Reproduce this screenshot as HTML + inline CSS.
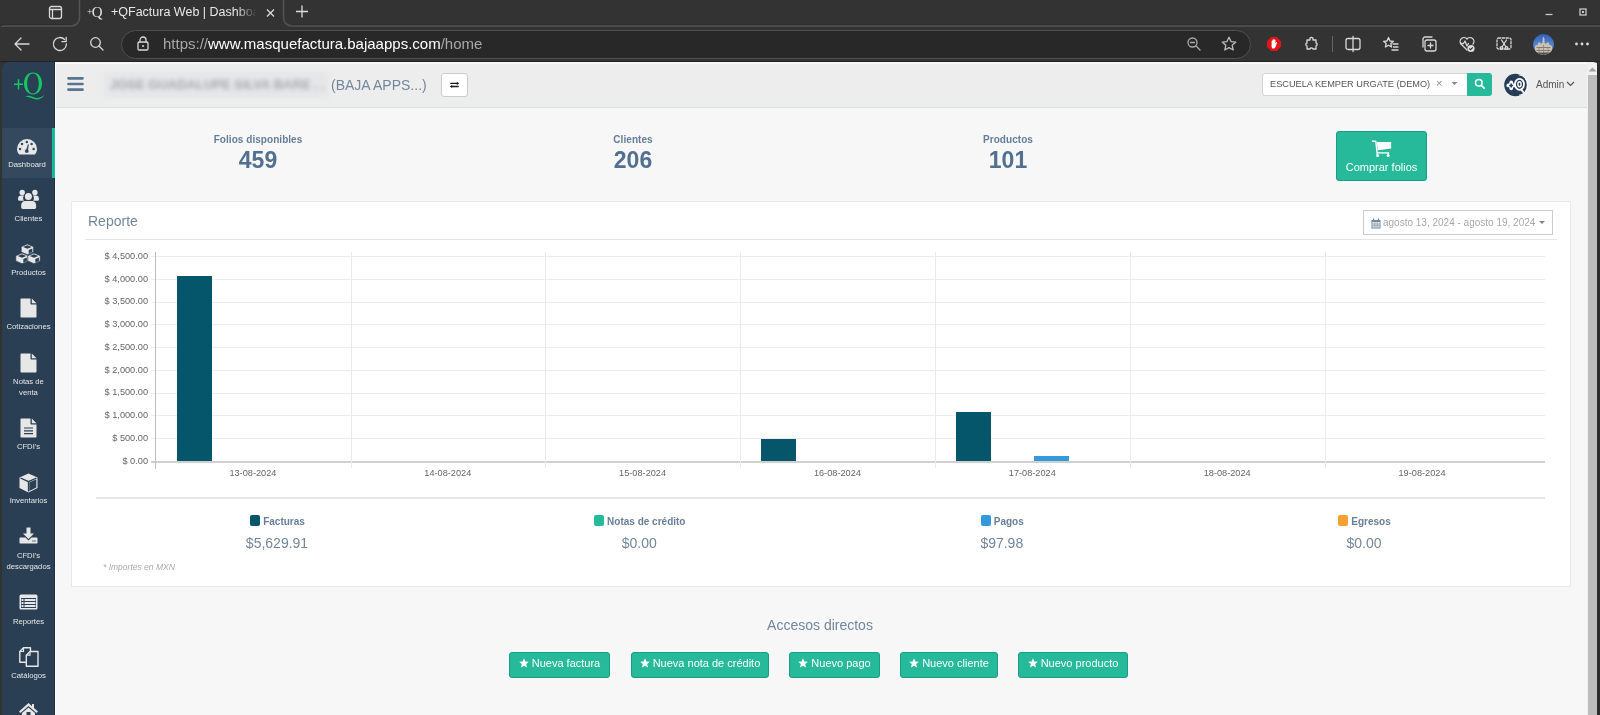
<!DOCTYPE html>
<html><head><meta charset="utf-8">
<style>
*{box-sizing:border-box;margin:0;padding:0}
html,body{width:1600px;height:715px;overflow:hidden;background:#333;font-family:"Liberation Sans",sans-serif;position:relative}
div,span,svg{position:absolute}
.in,.in *{position:static}
.ttl{left:111px;top:5px;font-size:12.5px;color:#e8e8e8;white-space:nowrap;line-height:14px;width:150px;overflow:hidden}
#urlbar{left:121px;top:30px;width:1130px;height:29px;background:#282828;border:1px solid #505050;border-radius:15px}
.url{left:163px;top:35px;font-size:15px;color:#fff;white-space:nowrap;line-height:18px}
.url span{position:static}
.url .g{color:#a8a8a8}
.ic{fill:none;stroke:#d8d8d8;stroke-width:1.3;stroke-linecap:round;stroke-linejoin:round}
#page{left:2px;top:62px;width:1598px;height:653px;background:#f7f7f7;border-radius:10px 10px 0 0;overflow:hidden}
#side{left:2px;top:62px;width:53px;height:653px;background:#2a3f54;border-top-left-radius:7px}
#nav{left:55px;top:62px;width:1532px;height:46px;background:#ededed;border-bottom:1px solid #d9dee4}
#scroll{left:1587px;top:62px;width:11px;height:653px;background:#f1f1f1}
#thumb{left:1588px;top:75px;width:9px;height:640px;background:#bcbcbc}
#rframe{left:1597px;top:62px;width:3px;height:653px;background:#2b2b2b}
.si{left:2px;width:53px;text-align:center;color:#e7e7e7;font-size:7.7px;line-height:10.8px}
.sic{fill:#e7e7e7}
.lbl{font-size:10px;font-weight:bold;line-height:12px;color:#647d98;letter-spacing:0.05px;width:200px;text-align:center;white-space:nowrap}
.cnt{font-size:23px;font-weight:bold;line-height:24px;color:#52708f;width:200px;text-align:center}
#panel{left:71px;top:201px;width:1500px;height:386px;background:#fff;border:1px solid #e6e9ed}
.ylab{left:88px;width:60px;text-align:right;font-size:9.2px;color:#666;line-height:10px;white-space:nowrap}
.xlab{width:120px;text-align:center;font-size:9.2px;color:#666;line-height:10px}
.hg{left:151px;width:1394px;height:1px;background:#ececec}
.vg{top:252px;width:1px;height:216px;background:#ebebeb}
.bar{background:#05566b}
.leg{width:300px;text-align:center;font-size:10px;font-weight:bold;color:#687f99;line-height:12px;white-space:nowrap}
.leg i{display:inline-block;width:10px;height:11px;border-radius:2px;vertical-align:-2px;margin-right:4px;position:relative;top:-1px;left:1px}
.amt{width:300px;text-align:center;font-size:14px;color:#73879c;line-height:16px}
.btn{top:652px;height:26px;background:#26b99a;border:1px solid #169f85;border-radius:3px;color:#fff;font-size:11px;line-height:21px;text-align:center;white-space:nowrap}
.btn span{position:static}
body{filter:opacity(0.999)}
</style></head><body>
<!-- ============ browser chrome ============ -->
<svg style="left:0;top:0" width="1600" height="27" viewBox="0 0 1600 27"><path d="M0 24.8H71M292 24.8H1600" fill="none" stroke="#2c2c2c" stroke-width="1"/><path d="M0 28.5C1 27 2.2 26 4.5 26H71C76 26 79.5 22.5 79.5 17.5V0M283.5 0V17.5C283.5 22.5 287 26 292 26H1600" fill="none" stroke="#545454" stroke-width="1.6"/></svg>
<svg style="left:48px;top:5px" width="16" height="16" viewBox="0 0 16 16"><rect class="ic" x="1.5" y="1.5" width="12" height="12" rx="2"/><path class="ic" d="M1.5 4.5H13.5M4.5 4.5V13.5"/></svg>
<div style="left:87px;top:3px;font-family:'Liberation Serif',serif;font-size:15px;color:#e0e0e0;line-height:17px;white-space:nowrap"><span class="in" style="font-size:10px;vertical-align:2px;margin-right:-1px">+</span>Q</div>
<div class="ttl">+QFactura Web | Dashboard</div>
<div style="left:236px;top:2px;width:26px;height:22px;background:linear-gradient(to right,rgba(51,51,51,0),#333 80%)"></div>
<svg style="left:266px;top:9px" width="9" height="8" viewBox="0 0 9 8"><path d="M1 0.5L8 7.5M8 0.5L1 7.5" fill="none" stroke="#ddd" stroke-width="1.2"/></svg>
<svg style="left:295px;top:5px" width="14" height="13" viewBox="0 0 14 13"><path d="M7 0.5V12.5M1 6.5H13" fill="none" stroke="#ddd" stroke-width="1.3"/></svg>
<!-- nav buttons -->
<svg style="left:13px;top:35px" width="18" height="18" viewBox="0 0 18 18"><path class="ic" d="M16 9H2M8 3L2 9L8 15"/></svg>
<svg style="left:51px;top:35px" width="18" height="18" viewBox="0 0 18 18"><path class="ic" d="M15.4 9A6.5 6.5 0 1 1 13.6 4.5"/><path class="ic" d="M15.2 2.3V6.6H10.9"/></svg>
<svg style="left:88px;top:35px" width="18" height="18" viewBox="0 0 18 18"><circle class="ic" cx="7.5" cy="7.5" r="4.8"/><path class="ic" d="M11 11L15 15"/></svg>
<div id="urlbar"></div>
<svg style="left:135px;top:35px" width="16" height="16" viewBox="0 0 16 16"><rect class="ic" x="3" y="7" width="10" height="8" rx="1.2"/><path class="ic" d="M5 7V5A3 3 0 0 1 11 5V7"/><circle cx="8" cy="11" r="1" fill="#d8d8d8"/></svg>
<div class="url"><span class="g">https://</span>www.masquefactura.bajaapps.com<span class="g">/home</span></div>
<svg style="left:1186px;top:36px" width="16" height="16" viewBox="0 0 16 16"><circle class="ic" cx="6.5" cy="6.5" r="4.5" style="stroke:#aaa"/><path class="ic" d="M4.5 6.5H8.5M10 10L14 14" style="stroke:#aaa"/></svg>
<svg style="left:1220px;top:35px" width="18" height="18" viewBox="0 0 18 18"><path class="ic" d="M9 2.2L11 6.6L15.8 7.1L12.2 10.3L13.2 15L9 12.6L4.8 15L5.8 10.3L2.2 7.1L7 6.6Z" style="stroke:#bbb"/></svg>
<svg style="left:1266px;top:36px" width="16" height="16" viewBox="0 0 16 16"><path d="M5.2 1H10.8L15 5.2V10.8L10.8 15H5.2L1 10.8V5.2Z" fill="#e0161b"/><path d="M5.6 7.6V5.2C5.6 4.6 6.5 4.6 6.5 5.2V4C6.5 3.4 7.5 3.4 7.5 4V3.6C7.5 3 8.5 3 8.5 3.6V4.2C8.5 3.6 9.5 3.6 9.5 4.2V7.4L10.2 6.3C10.6 5.8 11.3 6.2 11 6.8L9.6 10.8C9.2 12 8.4 12.6 7.4 12.6C6.2 12.6 5.6 11.6 5.6 10.4Z" fill="#fff"/></svg>
<svg style="left:1303px;top:35px" width="18" height="18" viewBox="0 0 18 18"><path class="ic" d="M7 3.5C7 2 10 2 10 3.5V5H13V8C14.5 8 14.5 11 13 11V14H10C10 12.5 7 12.5 7 14H4V11C2.5 11 2.5 8 4 8V5H7Z"/></svg>
<div style="left:1332px;top:36px;width:1px;height:16px;background:#666"></div>
<svg style="left:1344px;top:35px" width="18" height="18" viewBox="0 0 18 18"><rect class="ic" x="2" y="3.5" width="14" height="11" rx="2"/><path class="ic" d="M9 1.5V16.5"/></svg>
<svg style="left:1382px;top:35px" width="18" height="18" viewBox="0 0 18 18"><path class="ic" d="M6.5 2.5L8 6L11.5 6.3L8.8 8.6L9.6 12L6.5 10.2L3.4 12L4.2 8.6L1.5 6.3L5 6Z"/><path class="ic" d="M11 9H16M11.5 12H16M10 15H16"/></svg>
<svg style="left:1420px;top:35px" width="18" height="18" viewBox="0 0 18 18"><rect class="ic" x="5" y="5" width="11" height="11" rx="2"/><path class="ic" d="M3 12V4A2 2 0 0 1 5 2H12M10.5 8V13M8 10.5H13"/></svg>
<svg style="left:1458px;top:35px" width="18" height="18" viewBox="0 0 18 18"><path class="ic" d="M9 15L3 9A3.3 3.3 0 0 1 9 4A3.3 3.3 0 0 1 15 9"/><path class="ic" d="M2.5 8.5H5.5L7 6L9 11L10.5 8.5"/><circle cx="13" cy="13.5" r="3.6" fill="#ddd"/><path d="M11.3 13.5L12.6 14.7L14.8 12.3" fill="none" stroke="#333" stroke-width="1.1"/></svg>
<svg style="left:1495px;top:35px" width="18" height="18" viewBox="0 0 18 18"><rect class="ic" x="2" y="3" width="14" height="11" rx="1.5" style="stroke-dasharray:2.2 1.6"/><path class="ic" d="M6.5 5L11 12M11.5 5L7 12"/><circle class="ic" cx="6.5" cy="13" r="1.3"/><circle class="ic" cx="11.5" cy="13" r="1.3"/></svg>
<svg style="left:1533px;top:34px" width="21" height="21" viewBox="0 0 21 21"><defs><clipPath id="av"><circle cx="10.5" cy="10.5" r="10.4"/></clipPath><linearGradient id="sky" x1="0" y1="0" x2="0" y2="1"><stop offset="0" stop-color="#2f5fb8"/><stop offset="1" stop-color="#7aa6e0"/></linearGradient></defs><g clip-path="url(#av)"><rect width="21" height="21" fill="url(#sky)"/><path d="M2 21V12L5 10.5V8.5H7.5V10L9.5 9V5L10.5 2.5L11.5 5V9L13.5 10V8.5H16V10.5L19 12V21Z" fill="#c9c3b6"/><path d="M3.5 13.5H17.5M3.5 16.5H17.5" stroke="#7d7466" stroke-width="0.9"/><path d="M6 14V21M10.5 11V21M15 14V21" stroke="#8e8574" stroke-width="0.8"/><rect y="18.5" width="21" height="3" fill="#5a5348"/></g></svg>
<svg style="left:1574px;top:41px" width="16" height="6" viewBox="0 0 16 6"><circle cx="2.5" cy="3" r="1.4" fill="#ddd"/><circle cx="8" cy="3" r="1.4" fill="#ddd"/><circle cx="13.5" cy="3" r="1.4" fill="#ddd"/></svg>
<svg style="left:1543px;top:10px" width="12" height="8" viewBox="0 0 12 8"><path d="M2.5 4.5H9.5" stroke="#c8c8c8" stroke-width="1.3"/></svg>
<svg style="left:1578px;top:7px" width="10" height="10" viewBox="0 0 10 10"><rect x="2" y="2" width="6" height="6" fill="none" stroke="#c8c8c8" stroke-width="1.3"/><rect x="4" y="4" width="2" height="2" fill="#c8c8c8"/></svg>

<!-- ============ page ============ -->
<div id="page"></div>
<div id="side"></div>
<div id="nav"></div>
<div style="left:54px;top:62px;width:1px;height:653px;background:#1d3044"></div>
<div style="left:55px;top:62px;width:1px;height:653px;background:#fff"></div>
<div style="left:55px;top:62px;width:1532px;height:2px;background:#f8f8f8"></div>
<div style="left:0;top:61px;width:1600px;height:1px;background:#222"></div>
<div id="scroll"></div><div id="thumb"></div>
<svg style="left:1587px;top:65px" width="11" height="8" viewBox="0 0 11 8"><path d="M1.5 6.5L5.5 2.5L9.5 6.5Z" fill="#a0a0a0"/></svg>
<div id="rframe"></div>
<svg style="left:1590px;top:62px" width="10" height="10" viewBox="0 0 10 10"><path d="M3 0H10V10C10 4 8 0 3 0Z" fill="#333"/></svg>

<!-- ============ sidebar ============ -->
<svg style="left:13px;top:78px" width="11" height="12" viewBox="0 0 11 12"><path d="M5.5 1.3V11.4M1 6.3H10" stroke="#12c864" stroke-width="1.5"/></svg>
<svg style="left:20px;top:68px" width="28" height="36" viewBox="0 0 28 36"><path d="M13 4.6C7.5 4.6 4 9.5 4 15.5C4 21.5 7.5 26.4 13 26.4C18.5 26.4 22 21.5 22 15.5C22 9.5 18.5 4.6 13 4.6ZM13 5.6C16.8 5.6 18.8 10 18.8 15.5C18.8 21 16.8 25.4 13 25.4C9.2 25.4 7.2 21 7.2 15.5C7.2 10 9.2 5.6 13 5.6Z" fill="#12c864" fill-rule="evenodd"/><path d="M5 28.3C7 27.2 10 27.6 13 29C16.5 30.6 20 30.6 24.5 26.8C21.5 31.5 17.5 32.2 13.5 30.8C10.5 29.8 8 28.8 5 28.3Z" fill="#12c864"/></svg>
<div style="left:2px;top:128px;width:50px;height:50px;background:#34495e"></div>
<div style="left:52px;top:128px;width:3px;height:50px;background:#1abb9c"></div>
<svg style="left:17px;top:139px" width="20" height="16" viewBox="0 0 20 16"><path class="sic" d="M2.2 15.6C0.8 14 0 12.2 0 10A10 10 0 0 1 20 10C20 12.2 19.2 14 17.8 15.6Z"/><g fill="#34495e"><circle cx="3" cy="9.9" r="1.25"/><circle cx="5" cy="5" r="1.25"/><circle cx="9.8" cy="2.9" r="1.25"/><circle cx="14.6" cy="5" r="1.25"/><circle cx="16.6" cy="9.9" r="1.25"/><circle cx="9.8" cy="12.1" r="1.9"/><path d="M8.9 11.8L10.9 5.3L11.9 5.6L10.7 12.3Z"/></g></svg>
<div class="si" style="top:160px;left:0.5px">Dashboard</div>

<svg style="left:17px;top:189px" width="23" height="21" viewBox="0 0 23 21"><g class="sic"><circle cx="5.2" cy="3.5" r="2.7"/><circle cx="17.9" cy="3.5" r="2.7"/><path d="M1 10C1 7.5 2.2 6.4 4 6.4H7.2C6.2 7.3 6 8.5 6.2 10C6.4 11 6.6 11.5 7 11.8H2.5C1.5 11.8 1 11.2 1 10Z"/><path d="M22 10C22 7.5 20.8 6.4 19 6.4H15.8C16.8 7.3 17 8.5 16.8 10C16.6 11 16.4 11.5 16 11.8H20.5C21.5 11.8 22 11.2 22 10Z"/><path d="M4.2 18.3V16.2C4.2 13.5 5.8 11.9 8.2 11.9H15.1C17.5 11.9 19.1 13.5 19.1 16.2V18.3C19.1 19.3 18.5 19.9 17.5 19.9H5.8C4.8 19.9 4.2 19.3 4.2 18.3Z"/></g><circle cx="11.4" cy="7.6" r="4.4" fill="#2a3f54"/><circle class="sic" cx="11.4" cy="7.6" r="3.5"/></svg>
<div class="si" style="top:214px">Clientes</div>

<svg style="left:15px;top:243px" width="26" height="22" viewBox="0 0 26 22"><path d="M12.4 1.0 L18.6 3.7 L18.6 9.0 L12.4 11.7 L6.2 9.0 L6.2 3.7Z" fill="#e7e7e7" stroke="#2a3f54" stroke-width="0.7" stroke-linejoin="round"/><path d="M12.4 2.3 L16.7 4.0 L12.4 5.7 L8.1 4.0Z M13.7 7.1 L17.3 5.6 L17.3 9.1 L13.7 10.5Z" fill="#2a3f54"/><path d="M7.0 10.0 L13.2 12.7 L13.2 18.0 L7.0 20.7 L0.8 18.0 L0.8 12.7Z" fill="#e7e7e7" stroke="#2a3f54" stroke-width="0.7" stroke-linejoin="round"/><path d="M7.0 11.3 L11.3 13.0 L7.0 14.7 L2.7 13.0Z M8.3 16.1 L11.9 14.6 L11.9 18.1 L8.3 19.5Z" fill="#2a3f54"/><path d="M19.0 10.0 L25.2 12.7 L25.2 18.0 L19.0 20.7 L12.8 18.0 L12.8 12.7Z" fill="#e7e7e7" stroke="#2a3f54" stroke-width="0.7" stroke-linejoin="round"/><path d="M19.0 11.3 L23.3 13.0 L19.0 14.7 L14.7 13.0Z M20.3 16.1 L23.9 14.6 L23.9 18.1 L20.3 19.5Z" fill="#2a3f54"/></svg>
<div class="si" style="top:268px">Productos</div>

<svg style="left:20px;top:298px" width="17" height="20" viewBox="0 0 17 20"><path class="sic" d="M0.5 1.2C0.5 0.8 0.8 0.5 1.2 0.5H10.5V5.8C10.5 6.2 10.8 6.5 11.2 6.5H16.5V18.8C16.5 19.2 16.2 19.5 15.8 19.5H1.2C0.8 19.5 0.5 19.2 0.5 18.8Z"/><path class="sic" d="M11.8 0.5L16.5 5.2H11.8Z"/></svg>
<div class="si" style="top:322px">Cotizaciones</div>

<svg style="left:20px;top:353px" width="17" height="20" viewBox="0 0 17 20"><path class="sic" d="M0.5 1.2C0.5 0.8 0.8 0.5 1.2 0.5H10.5V5.8C10.5 6.2 10.8 6.5 11.2 6.5H16.5V18.8C16.5 19.2 16.2 19.5 15.8 19.5H1.2C0.8 19.5 0.5 19.2 0.5 18.8Z"/><path class="sic" d="M11.8 0.5L16.5 5.2H11.8Z"/></svg>
<div class="si" style="top:377px">Notas de<br>venta</div>

<svg style="left:20px;top:418px" width="17" height="20" viewBox="0 0 17 20"><path class="sic" d="M0.5 1.2C0.5 0.8 0.8 0.5 1.2 0.5H10.5V5.8C10.5 6.2 10.8 6.5 11.2 6.5H16.5V18.8C16.5 19.2 16.2 19.5 15.8 19.5H1.2C0.8 19.5 0.5 19.2 0.5 18.8Z"/><path class="sic" d="M11.8 0.5L16.5 5.2H11.8Z"/><path d="M4 10H13M4 12.8H13M4 15.6H13" stroke="#2a3f54" stroke-width="1.2"/></svg>
<div class="si" style="top:442px">CFDI's</div>

<svg style="left:19px;top:473px" width="19" height="20" viewBox="0 0 19 20"><path class="sic" d="M9.5 0.5L18.5 4.5V15L9.5 19.5L0.5 15V4.5Z"/><path d="M1.5 5L9.5 8.7L17.5 5M9.5 8.7V18.5" fill="none" stroke="#2a3f54" stroke-width="1.3"/><path d="M10.3 9.5L17.3 6.3V14.4L10.3 18Z" fill="#2a3f54"/></svg>
<div class="si" style="top:496px">Inventarios</div>

<svg style="left:19px;top:527px" width="19" height="17" viewBox="0 0 19 17"><path class="sic" d="M7.5 0.5H11.5V6.5H15L9.5 12L4 6.5H7.5Z"/><path class="sic" d="M0.5 11.2C0.5 10.8 0.8 10.5 1.2 10.5H6.5L9.5 13.5L12.5 10.5H17.8C18.2 10.5 18.5 10.8 18.5 11.2V16C18.5 16.3 18.2 16.5 17.8 16.5H1.2C0.8 16.5 0.5 16.3 0.5 16Z"/><circle cx="14" cy="14" r="0.7" fill="#2a3f54"/><circle cx="16" cy="14" r="0.7" fill="#2a3f54"/></svg>
<div class="si" style="top:551px">CFDI's<br>descargados</div>

<svg style="left:19px;top:594px" width="19" height="16" viewBox="0 0 19 16"><rect class="sic" x="0.5" y="0.5" width="18" height="15" rx="1.5"/><rect x="2" y="4" width="15" height="10" fill="#2a3f54"/><path class="sic" d="M2.5 5H4.5V7H2.5ZM5.5 5H16.5V7H5.5ZM2.5 8H4.5V10H2.5ZM5.5 8H16.5V10H5.5ZM2.5 11H4.5V13H2.5ZM5.5 11H16.5V13H5.5Z"/></svg>
<div class="si" style="top:617px">Reportes</div>

<svg style="left:19px;top:647px" width="20" height="20" viewBox="0 0 20 20"><path d="M4.5 0.8H11.5V15.2H0.8V4.5Z" fill="none" stroke="#e7e7e7" stroke-width="1.4" stroke-linejoin="round"/><path d="M4.5 0.8V4.5H0.8" fill="none" stroke="#e7e7e7" stroke-width="1.2"/><path d="M11 4.5H19V19.2H7.3V8.2Z" fill="#2a3f54" stroke="#e7e7e7" stroke-width="1.4" stroke-linejoin="round"/><path d="M11 4.5V8.2H7.3" fill="none" stroke="#e7e7e7" stroke-width="1.2"/></svg>
<div class="si" style="top:671px">Catálogos</div>

<svg style="left:18px;top:702px" width="21" height="14" viewBox="0 0 21 14"><path class="sic" d="M10.5 1L1 9.5L2.5 11L10.5 4L18.5 11L20 9.5L16 6V2H14V4.3Z"/><path class="sic" d="M4 11L10.5 5.5L17 11V14H4Z"/><rect x="8.5" y="10" width="4" height="4" fill="#2a3f54"/></svg>


<!-- ============ navbar ============ -->
<svg style="left:66px;top:76px" width="19" height="17" viewBox="0 0 19 17"><path d="M2.5 2.3H16.5M2.5 8H16.5M2.5 13.7H16.5" stroke="#5a738e" stroke-width="2.7" stroke-linecap="round"/></svg>
<div style="left:104px;top:72px;width:224px;height:26px;background:#e5e6e8;filter:blur(2.5px)"></div>
<div style="left:110px;top:77px;font-size:13px;font-weight:bold;color:#a4a8ae;line-height:16px;white-space:nowrap;filter:blur(2.2px)">JOSE GUADALUPE SILVA BARE . .</div>
<div style="left:331px;top:77px;font-size:14px;color:#73879c;line-height:16px;white-space:nowrap">(BAJA APPS...)</div>
<div style="left:441px;top:73px;width:27px;height:24px;background:#fff;border:1px solid #ccc;border-radius:3px"></div>
<svg style="left:449px;top:81px" width="11" height="8" viewBox="0 0 11 8"><path d="M1.3 2.4H8.6M2.4 5.5H9.7" stroke="#1a1a1a" stroke-width="1.3"/><path d="M7.8 0.8L10.2 2.4L7.8 4ZM3.2 3.9L0.8 5.5L3.2 7.1Z" fill="#1a1a1a"/></svg>
<div style="left:1262px;top:73px;width:206px;height:23px;background:#fff;border:1px solid #d4d4d4;border-radius:3px 0 0 3px"></div>
<div style="left:1270px;top:78px;font-size:9.2px;color:#555;line-height:12px;white-space:nowrap">ESCUELA KEMPER URGATE (DEMO)</div>
<div style="left:1436px;top:77px;font-size:11px;color:#888;line-height:13px">×</div>
<svg style="left:1451px;top:81px" width="7" height="5" viewBox="0 0 7 5"><path d="M0.5 1H6.5L3.5 4Z" fill="#888"/></svg>
<div style="left:1467px;top:73px;width:25px;height:23px;background:#26b99a;border-radius:0 3px 3px 0"></div>
<svg style="left:1474px;top:78px" width="12" height="12" viewBox="0 0 12 12"><circle cx="4.8" cy="4.8" r="3.3" fill="none" stroke="#fff" stroke-width="1.5"/><path d="M7.3 7.3L10.2 10.2" stroke="#fff" stroke-width="1.8" stroke-linecap="round"/></svg>
<svg style="left:1504px;top:73px" width="24" height="24" viewBox="0 0 24 24"><circle cx="11.5" cy="12" r="11.3" fill="#253c57"/><path d="M14.5 1.8A10.3 10.3 0 0 1 15 22.3" fill="none" stroke="#fff" stroke-width="0.9"/><ellipse cx="15.5" cy="11.3" rx="4.5" ry="5.5" fill="none" stroke="#fff" stroke-width="1.8"/><ellipse cx="15.5" cy="11.3" rx="1.6" ry="2.5" fill="none" stroke="#fff" stroke-width="1.4"/><path d="M16.7 16.2L19.8 19.6" stroke="#fff" stroke-width="1.8"/><path d="M4.3 12.4H10.1M7.2 9.5V15.3" stroke="#fff" stroke-width="3.8" stroke-linecap="round"/><path d="M5.2 12.4H9.2M7.2 10.4V14.4" stroke="#253c57" stroke-width="1.5"/></svg>
<div style="left:1536px;top:79px;font-size:10px;color:#555;line-height:12px">Admin</div>
<svg style="left:1566px;top:81px" width="9" height="6" viewBox="0 0 9 6"><path d="M1 1L4.5 4.5L8 1" fill="none" stroke="#555" stroke-width="1.2"/></svg>


<!-- ============ tiles ============ -->
<div class="lbl" style="left:158px;top:134px">Folios disponibles</div>
<div class="cnt" style="left:158px;top:148px">459</div>
<div class="lbl" style="left:533px;top:134px">Clientes</div>
<div class="cnt" style="left:533px;top:148px">206</div>
<div class="lbl" style="left:908px;top:134px">Productos</div>
<div class="cnt" style="left:908px;top:148px">101</div>
<div style="left:1336px;top:131px;width:91px;height:50px;background:#26b99a;border:1px solid #169f85;border-radius:3px"></div>
<svg style="left:1366px;top:136px" width="32" height="24" viewBox="0 0 32 24"><path d="M6 5.3H9.8L11.4 19.6" fill="none" stroke="#fff" stroke-width="1.4" stroke-linejoin="round"/><path d="M10.8 5.9H25.2V12.6L11.8 14.2Z" fill="#fff"/><path d="M11.2 16.9H23.2" stroke="#fff" stroke-width="1.3"/><circle cx="11.6" cy="19.6" r="1.5" fill="#fff"/><circle cx="22.2" cy="19.6" r="1.5" fill="#fff"/><path d="M22.2 16.9V19" stroke="#fff" stroke-width="1.3"/></svg>
<div style="left:1336px;top:161px;width:91px;text-align:center;color:#fff;font-size:11px;line-height:13px">Comprar folios</div>

<!-- ============ panel ============ -->
<div id="panel"></div>
<div style="left:88px;top:213px;font-size:14px;color:#73879c;line-height:16px">Reporte</div>
<div style="left:1363px;top:210px;width:190px;height:25px;border:1px solid #ccc;background:#fff"></div>
<svg style="left:1371px;top:218px" width="10" height="11" viewBox="0 0 10 11"><rect x="0.5" y="2" width="9" height="8.5" fill="#73879c"/><rect x="1.5" y="4" width="7" height="5.5" fill="#fff"/><path d="M1.5 6H8.5M1.5 7.8H8.5M3.2 4V9.5M5 4V9.5M6.8 4V9.5" stroke="#73879c" stroke-width="0.6"/><rect x="2" y="0.5" width="1.2" height="2.5" fill="#73879c"/><rect x="6.8" y="0.5" width="1.2" height="2.5" fill="#73879c"/></svg>
<div style="left:1383px;top:217px;font-size:10px;color:#a8a8a8;line-height:12px;white-space:nowrap">agosto 13, 2024 - agosto 19, 2024</div>
<svg style="left:1538px;top:219px" width="8" height="6" viewBox="0 0 8 6"><path d="M1 2H7L4 5Z" fill="#73879c"/></svg>
<div style="left:85px;top:239px;width:1472px;height:1px;background:#e3e6ea"></div>

<!-- CHART_PLACEHOLDER -->
<div class="ylab" style="top:455.7px">$ 0.00</div>
<div class="hg" style="top:438px"></div>
<div class="ylab" style="top:432.9px">$ 500.00</div>
<div class="hg" style="top:415px"></div>
<div class="ylab" style="top:410.1px">$ 1,000.00</div>
<div class="hg" style="top:393px"></div>
<div class="ylab" style="top:387.4px">$ 1,500.00</div>
<div class="hg" style="top:370px"></div>
<div class="ylab" style="top:364.6px">$ 2,000.00</div>
<div class="hg" style="top:347px"></div>
<div class="ylab" style="top:341.8px">$ 2,500.00</div>
<div class="hg" style="top:324px"></div>
<div class="ylab" style="top:319.0px">$ 3,000.00</div>
<div class="hg" style="top:302px"></div>
<div class="ylab" style="top:296.2px">$ 3,500.00</div>
<div class="hg" style="top:279px"></div>
<div class="ylab" style="top:273.5px">$ 4,000.00</div>
<div class="hg" style="top:256px"></div>
<div class="ylab" style="top:250.7px">$ 4,500.00</div>
<div style="left:151px;top:461px;width:1394px;height:2px;background:#d0d0d0"></div>
<div style="left:155px;top:252px;width:1px;height:217px;background:#bdbdbd"></div>
<div class="vg" style="left:351px"></div>
<div class="vg" style="left:545px"></div>
<div class="vg" style="left:740px"></div>
<div class="vg" style="left:935px"></div>
<div class="vg" style="left:1130px"></div>
<div class="vg" style="left:1325px"></div>
<div class="xlab" style="left:192.9px;top:468px">13-08-2024</div>
<div class="xlab" style="left:387.8px;top:468px">14-08-2024</div>
<div class="xlab" style="left:582.6px;top:468px">15-08-2024</div>
<div class="xlab" style="left:777.4px;top:468px">16-08-2024</div>
<div class="xlab" style="left:972.3px;top:468px">17-08-2024</div>
<div class="xlab" style="left:1167.2px;top:468px">18-08-2024</div>
<div class="xlab" style="left:1362.0px;top:468px">19-08-2024</div>
<div style="left:177px;top:276px;width:35px;height:185px;background:#05566b"></div>
<div style="left:761px;top:439px;width:35px;height:22px;background:#05566b"></div>
<div style="left:956px;top:412px;width:35px;height:49px;background:#05566b"></div>
<div style="left:1034px;top:456px;width:35px;height:5px;background:#3498db"></div>
<div style="left:96px;top:497px;width:1449px;height:2px;background:#e5e6e8"></div>
<div class="leg" style="left:127.0px;top:516px"><i style="background:#05566b"></i>Facturas</div>
<div class="amt" style="left:127.0px;top:535px">$5,629.91</div>
<div class="leg" style="left:489.3px;top:516px"><i style="background:#26b99a"></i>Notas de crédito</div>
<div class="amt" style="left:489.3px;top:535px">$0.00</div>
<div class="leg" style="left:851.8px;top:516px"><i style="background:#3498db"></i>Pagos</div>
<div class="amt" style="left:851.8px;top:535px">$97.98</div>
<div class="leg" style="left:1214.0px;top:516px"><i style="background:#f7a035"></i>Egresos</div>
<div class="amt" style="left:1214.0px;top:535px">$0.00</div>
<div style="left:103px;top:562px;font-size:8.5px;font-style:italic;color:#aaa;line-height:10px;white-space:nowrap">* Importes en MXN</div>
<!-- /CHART -->

<!-- ============ accesos ============ -->
<div style="left:620px;top:617px;width:400px;text-align:center;font-size:14px;color:#73879c;line-height:16px">Accesos directos</div>
<div class="btn" style="left:509px;width:101px"><span><svg class="in" width="10" height="10" viewBox="0 0 10 10" style="vertical-align:-1px;margin-right:3px"><path d="M5 0.3L6.4 3.4L9.8 3.7L7.2 6L8 9.5L5 7.7L2 9.5L2.8 6L0.2 3.7L3.6 3.4Z" fill="#fff"/></svg>Nueva factura</span></div>
<div class="btn" style="left:631px;width:138px"><span><svg class="in" width="10" height="10" viewBox="0 0 10 10" style="vertical-align:-1px;margin-right:3px"><path d="M5 0.3L6.4 3.4L9.8 3.7L7.2 6L8 9.5L5 7.7L2 9.5L2.8 6L0.2 3.7L3.6 3.4Z" fill="#fff"/></svg>Nueva nota de crédito</span></div>
<div class="btn" style="left:789px;width:91px"><span><svg class="in" width="10" height="10" viewBox="0 0 10 10" style="vertical-align:-1px;margin-right:3px"><path d="M5 0.3L6.4 3.4L9.8 3.7L7.2 6L8 9.5L5 7.7L2 9.5L2.8 6L0.2 3.7L3.6 3.4Z" fill="#fff"/></svg>Nuevo pago</span></div>
<div class="btn" style="left:900px;width:98px"><span><svg class="in" width="10" height="10" viewBox="0 0 10 10" style="vertical-align:-1px;margin-right:3px"><path d="M5 0.3L6.4 3.4L9.8 3.7L7.2 6L8 9.5L5 7.7L2 9.5L2.8 6L0.2 3.7L3.6 3.4Z" fill="#fff"/></svg>Nuevo cliente</span></div>
<div class="btn" style="left:1018px;width:110px"><span><svg class="in" width="10" height="10" viewBox="0 0 10 10" style="vertical-align:-1px;margin-right:3px"><path d="M5 0.3L6.4 3.4L9.8 3.7L7.2 6L8 9.5L5 7.7L2 9.5L2.8 6L0.2 3.7L3.6 3.4Z" fill="#fff"/></svg>Nuevo producto</span></div>
</body></html>
